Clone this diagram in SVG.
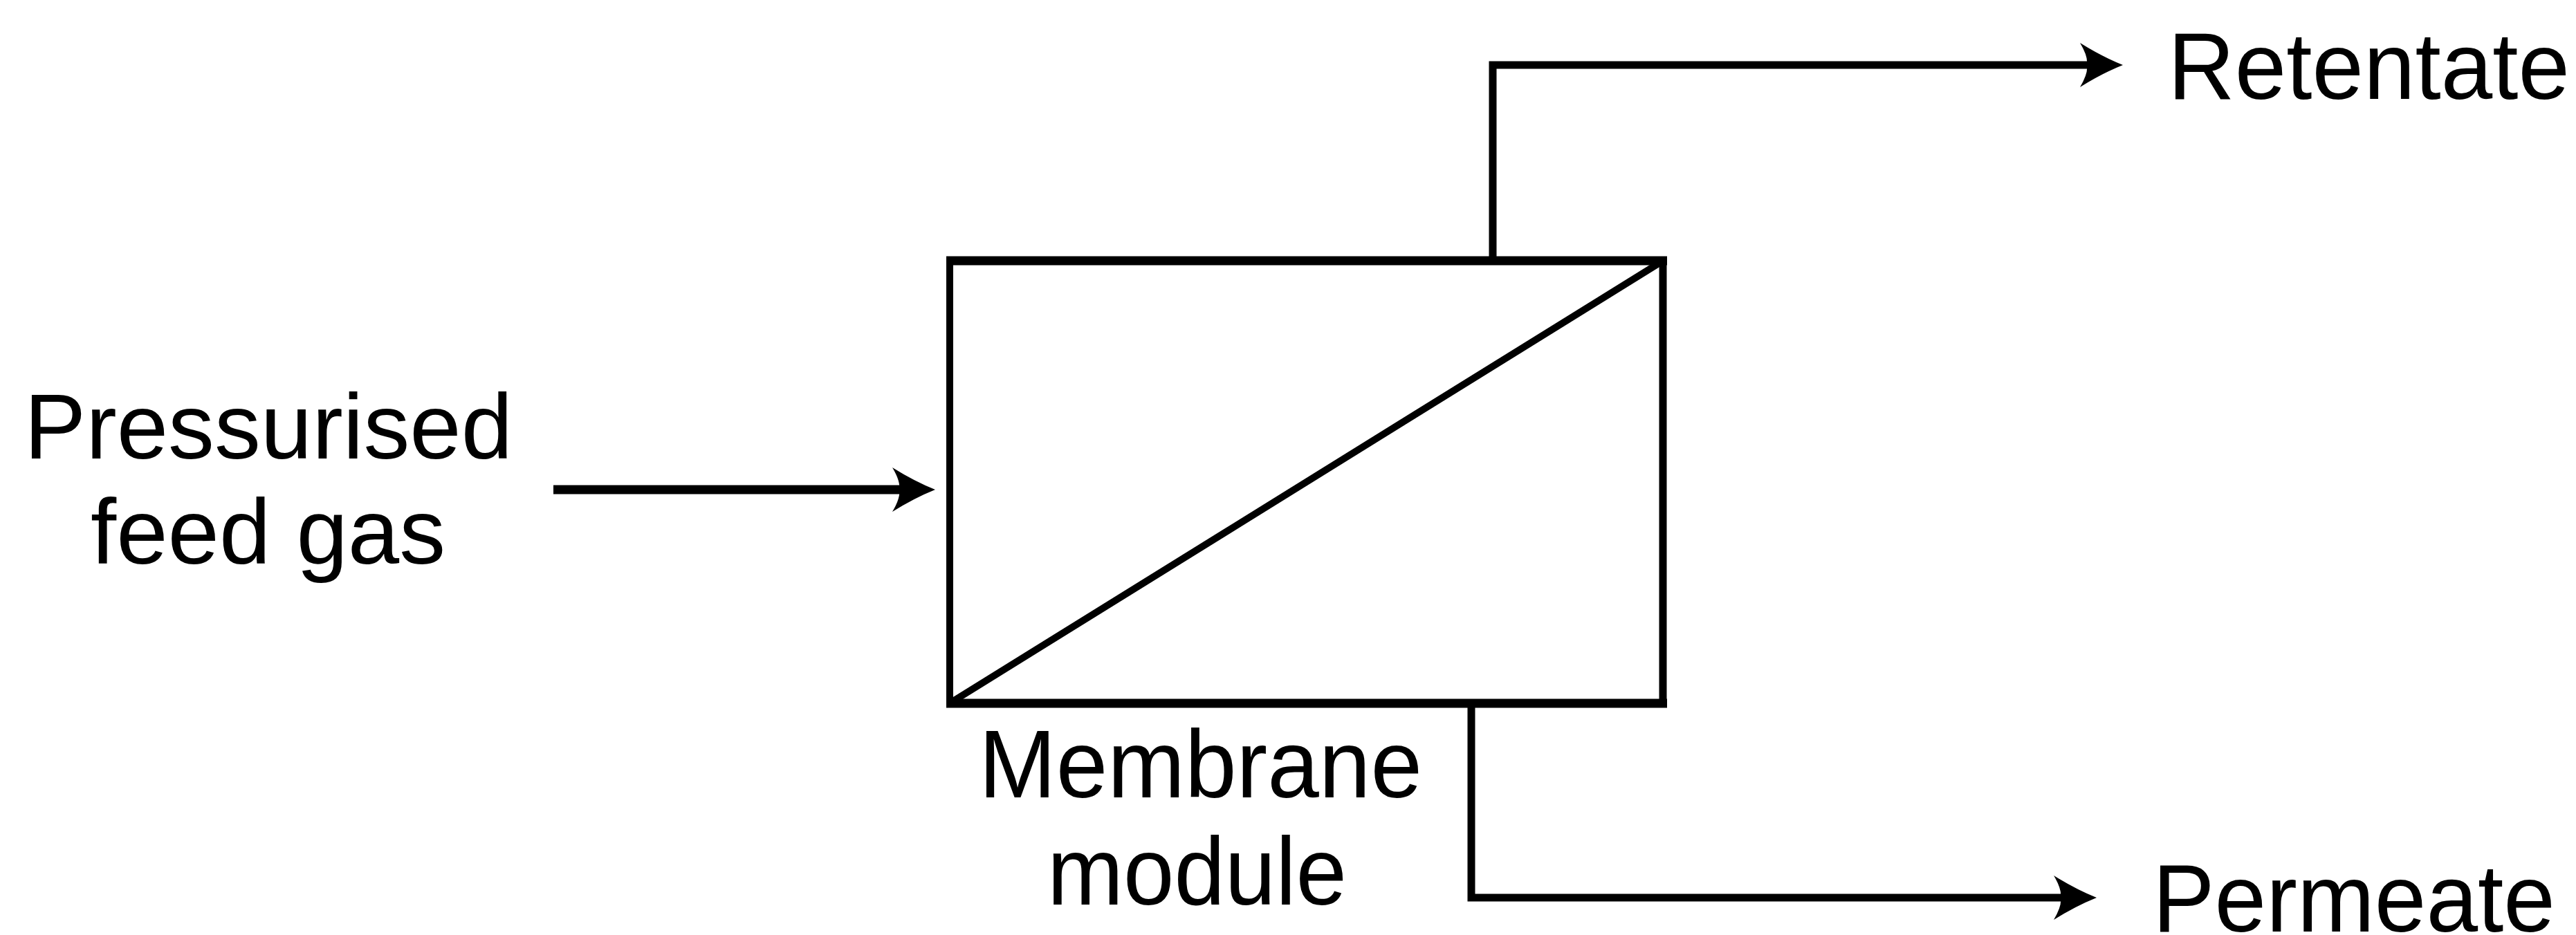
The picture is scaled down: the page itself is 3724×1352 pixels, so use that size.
<svg xmlns="http://www.w3.org/2000/svg" width="3724" height="1352" viewBox="0 0 3724 1352">
<style>
.lbl{font-family:"Liberation Sans",Arial,Helvetica,sans-serif;fill:#000;}
.ln{fill:none;stroke:#000;stroke-linejoin:miter;stroke-linecap:butt;}
</style>
<defs>
<marker id="arr" viewBox="0 -33 66 66" markerWidth="66" markerHeight="66" refX="26" refY="0" orient="auto" markerUnits="userSpaceOnUse">
<path d="M64,0 Q34,-12 2,-32 Q14,-12 12,0 Q14,12 2,32 Q34,12 64,0 Z" fill="#000"/>
</marker>
</defs>
<rect width="3724" height="1352" fill="#fff"/>
<g id="membrane-module">
<line class="ln" x1="1373" y1="371" x2="1373" y2="1023" stroke-width="10"/>
<line class="ln" x1="2404" y1="371" x2="2404" y2="1023" stroke-width="11"/>
<line class="ln" x1="1368" y1="377" x2="2410" y2="377" stroke-width="13"/>
<line class="ln" x1="1368" y1="1017" x2="2410" y2="1017" stroke-width="13"/>
<line class="ln" x1="1376" y1="1015" x2="2401" y2="379" stroke-width="10"/>
<text class="lbl" font-size="140" x="1415" y="1153" textLength="641" lengthAdjust="spacingAndGlyphs">Membrane</text>
<text class="lbl" font-size="140" x="1514" y="1308" textLength="433" lengthAdjust="spacingAndGlyphs">module</text>
</g>
<g id="feed">
<text class="lbl" font-size="133" x="35" y="663" textLength="706" lengthAdjust="spacingAndGlyphs">Pressurised</text>
<text class="lbl" font-size="133" x="131" y="815" textLength="513" lengthAdjust="spacingAndGlyphs">feed gas</text>
</g>
<g id="retentate">
<text class="lbl" font-size="137" x="3134" y="143" textLength="581" lengthAdjust="spacingAndGlyphs">Retentate</text>
</g>
<g id="permeate">
<text class="lbl" font-size="140" x="3112" y="1347" textLength="582" lengthAdjust="spacingAndGlyphs">Permeate</text>
</g>
<g id="connectors">
<line class="ln" x1="800" y1="708" x2="1314" y2="708" stroke-width="13" marker-end="url(#arr)"/>
<path class="ln" d="M2158,377 V94 H3031" stroke-width="11" marker-end="url(#arr)"/>
<path class="ln" d="M2127,1017 V1298 H2993" stroke-width="11" marker-end="url(#arr)"/>
</g>
</svg>
